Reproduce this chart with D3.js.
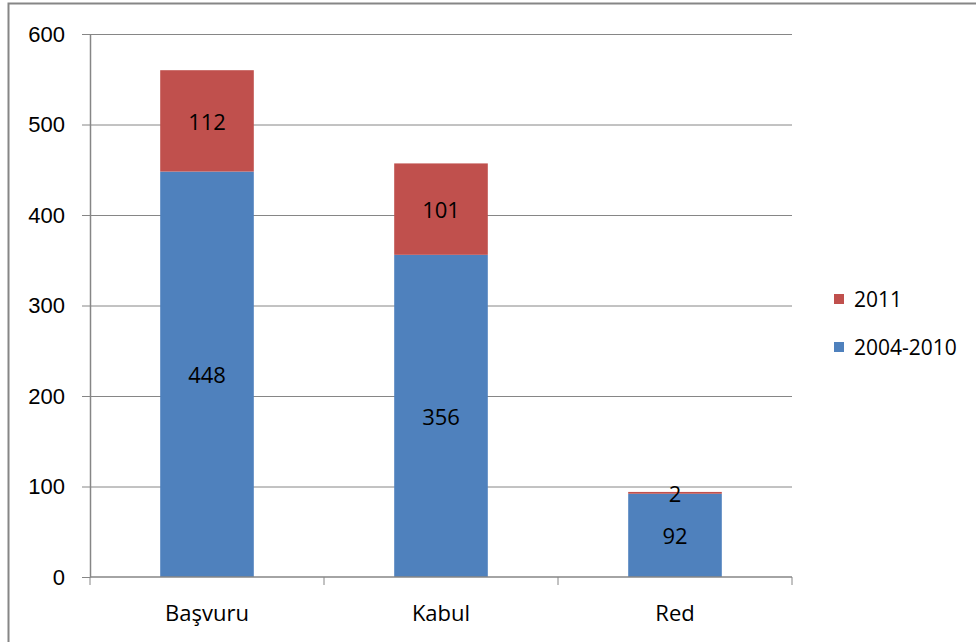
<!DOCTYPE html>
<html>
<head>
<meta charset="utf-8">
<script src="https://cdn.jsdelivr.net/npm/d3@7"></script>
<style>
  html, body { margin: 0; padding: 0; background: #fff; }
  svg { display: block; font-family: 'Open Sans', sans-serif; }
  .axis text { font-size: 22px; fill: #000; }
  .axis path, .axis line { stroke: #868686; }
  .grid line { stroke: #868686; }
  .grid path { display: none; }
  .value { font-size: 22px; fill: #000; }
</style>
</head>
<body>
<svg id="chart" width="976" height="642"></svg>
<script>
const categories = ['Başvuru', 'Kabul', 'Red']
const seriesNames = ['2004-2010', '2011']
const values2004_2010 = [448, 356, 92]
const values2011 = [112, 101, 2]
const yTicks = [0, 100, 200, 300, 400, 500, 600]
const colors = { '2004-2010': '#4F81BD', '2011': '#C0504D' }

const width = 976
const height = 642
const margin = { top: 34, right: 184, bottom: 65, left: 90 }
const innerWidth = width - margin.left - margin.right
const innerHeight = height - margin.top - margin.bottom

const svg = d3.select('#chart')

// chart frame: only top and left edges are inside the picture
svg.append('path')
  .attr('d', `M8.5,${height} V3.5 H${width}`)
  .attr('fill', 'none')
  .attr('stroke', '#868686')
  .attr('stroke-width', 2)

const rows = categories.map((c, i) => ({
  category: c,
  '2004-2010': values2004_2010[i],
  '2011': values2011[i],
}))
const stacked = d3.stack().keys(seriesNames)(rows)

const x = d3.scaleBand()
  .domain(categories)
  .range([0, innerWidth])
  .paddingInner(0.6)
  .paddingOuter(0.3)
const step = x.step()
const y = d3.scaleLinear().domain([0, 600]).range([innerHeight, 0])

const g = svg.append('g')
  .attr('transform', `translate(${margin.left},${margin.top})`)

// gridlines
g.append('g')
  .attr('class', 'grid')
  .call(d3.axisLeft(y).tickValues(yTicks.slice(1)).tickSize(-innerWidth).tickFormat(''))

// bars
g.selectAll('.series')
  .data(stacked)
  .join('g')
  .attr('class', 'series')
  .attr('fill', (s) => colors[s.key])
  .selectAll('rect')
  .data((s) => s)
  .join('rect')
  .attr('x', (d) => x(d.data.category))
  .attr('y', (d) => y(d[1]))
  .attr('width', x.bandwidth())
  .attr('height', (d) => y(d[0]) - y(d[1]))

// value labels
stacked.forEach((s) => {
  g.selectAll(null)
    .data(s)
    .join('text')
    .attr('class', 'value')
    .attr('x', (d) => x(d.data.category) + x.bandwidth() / 2)
    .attr('y', (d) => (y(d[0]) + y(d[1])) / 2)
    .attr('text-anchor', 'middle')
    .attr('dominant-baseline', 'central')
    .text((d) => d.data[s.key])
})

// y axis
g.append('g')
  .attr('class', 'axis')
  .call(d3.axisLeft(y).tickValues(yTicks).tickSize(8).tickPadding(17).tickSizeOuter(0))
  .call((a) => a.selectAll('path').attr('stroke-width', 1.5))

// x axis with boundary ticks
const xAxis = g.append('g')
  .attr('class', 'axis')
  .attr('transform', `translate(0,${innerHeight})`)
xAxis.append('line')
  .attr('x1', 0).attr('x2', innerWidth)
  .attr('stroke', '#868686').attr('stroke-width', 1.5)
xAxis.selectAll('.bound')
  .data(d3.range(categories.length + 1))
  .join('line')
  .attr('class', 'bound')
  .attr('x1', (i) => i * step).attr('x2', (i) => i * step)
  .attr('y1', 0).attr('y2', 8)
  .attr('stroke', '#868686')
xAxis.selectAll('.cat')
  .data(categories)
  .join('text')
  .attr('class', 'cat')
  .attr('x', (d) => x(d) + x.bandwidth() / 2)
  .attr('y', 35)
  .attr('text-anchor', 'middle')
  .attr('dominant-baseline', 'central')
  .text((d) => d)

// legend
const legend = svg.append('g').attr('transform', 'translate(834,299)')
const legendItems = legend.selectAll('g')
  .data(seriesNames.slice().reverse())
  .join('g')
  .attr('transform', (d, i) => `translate(0,${i * 48})`)
legendItems.append('rect')
  .attr('x', 0).attr('y', -5)
  .attr('width', 10).attr('height', 10)
  .attr('fill', (d) => colors[d])
legendItems.append('text')
  .attr('x', 20)
  .attr('y', 0)
  .attr('dominant-baseline', 'central')
  .style('font-size', '21px')
  .text((d) => d)
</script>
</body>
</html>
